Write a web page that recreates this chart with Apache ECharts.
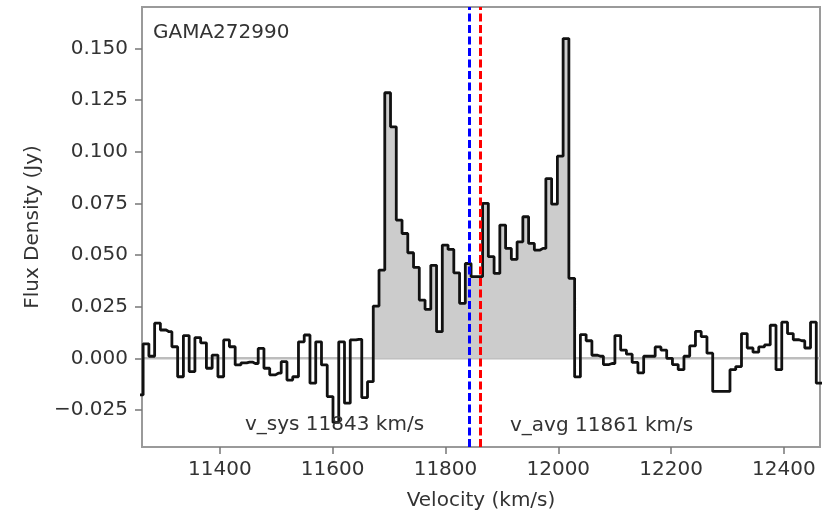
<!DOCTYPE html>
<html>
<head>
<meta charset="utf-8">
<script src="https://cdn.jsdelivr.net/npm/echarts@6/dist/echarts.min.js"></script>
<style>
html,body{margin:0;padding:0;background:#fff;}
#chart{width:833px;height:510px;}
</style>
</head>
<body>
<div id="chart"></div>
<script>
// Channel velocities (km/s), channel centres
const velocity = [
11248.7,11258.9,11269.1,11279.3,11289.5,11299.7,11309.9,11320.1,11330.3,11340.5,
11350.7,11360.9,11371.1,11381.3,11391.5,11401.7,11411.9,11422.1,11432.3,11442.5,
11452.7,11462.9,11473.1,11483.3,11493.5,11503.7,11513.9,11524.1,11534.3,11544.5,
11554.7,11564.9,11575.1,11585.3,11595.5,11605.7,11615.9,11626.1,11636.3,11646.5,
11656.7,11666.9,11677.1,11687.3,11697.5,11707.7,11717.9,11728.1,11738.3,11748.5,
11758.7,11768.9,11779.1,11789.3,11799.5,11809.7,11819.9,11830.1,11840.3,11850.5,
11860.7,11870.9,11881.1,11891.3,11901.5,11911.7,11921.9,11932.1,11942.3,11952.5,
11962.7,11972.9,11983.1,11993.3,12003.5,12013.7,12023.9,12034.1,12044.3,12054.5,
12064.7,12074.9,12085.1,12095.3,12105.5,12115.7,12125.9,12136.1,12146.3,12156.5,
12166.7,12176.9,12187.1,12197.3,12207.5,12217.7,12227.9,12238.1,12248.3,12258.5,
12268.7,12278.9,12289.1,12299.3,12309.5,12319.7,12329.9,12340.1,12350.3,12360.5,
12370.7,12380.9,12391.1,12401.3,12411.5,12421.7,12431.9,12442.1,12452.3,12462.5,
12472.7
];
// Flux density (Jy)
const flux = [
-0.0177,-0.0177,0.0070,0.0010,0.0170,0.0137,0.0129,0.0056,-0.0089,0.0110,
-0.0064,0.0100,0.0075,-0.0048,0.0016,-0.0089,0.0089,0.0056,-0.0032,-0.0022,
-0.0018,-0.0025,0.0048,-0.0048,-0.0080,-0.0072,-0.0016,-0.0105,-0.0089,0.0080,
0.0113,-0.0120,0.0080,-0.0032,-0.0185,-0.0310,0.0080,-0.0217,0.0089,0.0092,
-0.0190,-0.0113,
0.0253,0.0427,0.1285,0.1120,0.0669,0.0604,0.0511,0.0440,0.0282,0.0237,
0.0450,0.0129,0.0548,0.0527,0.0414,0.0266,0.0459,0.0395,0.0395,0.0750,
0.0492,0.0411,0.0645,0.0532,0.0479,0.0564,0.0685,0.0556,0.0524,0.0532,
0.0870,0.0746,0.0978,0.1547,0.0387,
-0.0090,0.0115,0.0085,0.0015,0.0010,-0.0030,-0.0025,0.0110,0.0040,0.0020,
-0.0020,-0.0070,0.0010,0.0010,0.0055,0.0040,0.0000,-0.0030,-0.0055,0.0010,
0.0060,0.0130,0.0105,0.0025,-0.0160,-0.0160,-0.0160,-0.0055,-0.0040,0.0120,
0.0050,0.0030,0.0055,0.0065,0.0160,-0.0055,0.0175,0.0120,0.0090,0.0085,
0.0050,0.0175,-0.0120,-0.0120
];
const signalRange = [11672, 12029];   // velocity window of the shaded line
const vSys = 11843;
const vAvg = 11861;
const xTicks = [11400, 11600, 11800, 12000, 12200, 12400];
const yTicks = [-0.025, 0, 0.025, 0.05, 0.075, 0.1, 0.125, 0.15];
const xRange = [11262, 12464];
const yRange = [-0.0429, 0.170];
const galaxyName = 'GAMA272990';

const spectrum = velocity.map((v, i) => [v, flux[i]]);
const fillData = [];
for (let i = 0; i < velocity.length; i++) {
  if (velocity[i] > signalRange[0] && velocity[i] < signalRange[1]) fillData.push([velocity[i], flux[i]]);
}
fillData.unshift([signalRange[0], fillData[0][1]]);
fillData.push([signalRange[1], fillData[fillData.length - 1][1]]);

const FONT = 'DejaVu Sans';
const TXT = '#333333';
const chart = echarts.init(document.getElementById('chart'), null, {renderer: 'canvas'});
chart.setOption({
  animation: false,
  backgroundColor: '#ffffff',
  grid: {left: 142, right: 13, top: 7, bottom: 63, containLabel: false, outerBoundsMode: 'none',
    show: true, borderColor: '#9a9a9a', borderWidth: 2, backgroundColor: 'transparent'},
  xAxis: {
    type: 'value', min: xRange[0], max: xRange[1],
    name: 'Velocity (km/s)', nameLocation: 'middle', nameGap: 44,
    nameTextStyle: {fontFamily: FONT, fontSize: 20, color: TXT},
    axisLine: {show: false, onZero: false},
    axisTick: {show: true, customValues: xTicks, length: 7, inside: false, lineStyle: {color: '#777', width: 1.5}},
    axisLabel: {customValues: xTicks, fontFamily: FONT, fontSize: 20, color: TXT, margin: 13, formatter: v => String(v)},
    splitLine: {show: false}
  },
  yAxis: {
    type: 'value', min: yRange[0], max: yRange[1],
    name: 'Flux Density (Jy)', nameLocation: 'middle', nameGap: 97, nameRotate: 90,
    nameTextStyle: {fontFamily: FONT, fontSize: 20, color: TXT},
    axisLine: {show: false, onZero: false},
    axisTick: {show: true, customValues: yTicks, length: 7, inside: false, lineStyle: {color: '#777', width: 1.5}},
    axisLabel: {customValues: yTicks, fontFamily: FONT, fontSize: 20, color: TXT, margin: 14,
      formatter: v => (Math.abs(v) < 1e-9 ? '0.000' : v.toFixed(3).replace('-', '\u2212'))},
    splitLine: {show: false}
  },
  series: [
    {
      name: 'zero', type: 'line', z: 1, symbol: 'none', silent: true,
      data: [[xRange[0], 0], [xRange[1], 0]],
      lineStyle: {color: '#bdbdbd', width: 2.5}
    },
    {
      name: 'fill', type: 'line', z: 2, step: 'middle', symbol: 'none', silent: true,
      data: fillData,
      lineStyle: {width: 0, opacity: 0},
      areaStyle: {color: '#cccccc', opacity: 1, origin: 0}
    },
    {
      name: 'spectrum', type: 'line', z: 3, step: 'middle', symbol: 'none', silent: true,
      data: spectrum,
      lineStyle: {color: '#111111', width: 2.8}
    },
    {
      name: 'markers', type: 'line', z: 4, data: [], symbol: 'none',
      markLine: {
        silent: true, symbol: 'none', animation: false,
        label: {show: false},
        data: [
          {xAxis: vSys, lineStyle: {color: '#0000ff', width: 3, type: [8, 3.5]}},
          {xAxis: vAvg, lineStyle: {color: '#ff0000', width: 3, type: [8, 3.5]}}
        ]
      }
    }
  ],
  graphic: [
    {type: 'text', left: 153, top: 23, z: 10, style: {text: galaxyName, font: '20px "' + FONT + '"', fill: TXT}},
    {type: 'text', left: 245, top: 415, z: 10, style: {text: 'v_sys ' + vSys + ' km/s', font: '20px "' + FONT + '"', fill: TXT}},
    {type: 'text', left: 510, top: 416, z: 10, style: {text: 'v_avg ' + vAvg + ' km/s', font: '20px "' + FONT + '"', fill: TXT}}
  ]
});
</script>
</body>
</html>
